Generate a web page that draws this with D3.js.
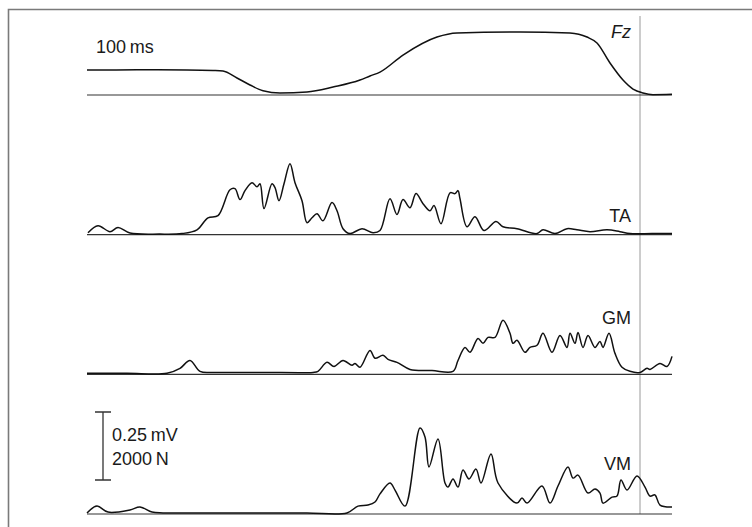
<!DOCTYPE html>
<html>
<head>
<meta charset="utf-8">
<script src="https://cdn.jsdelivr.net/npm/d3@7"></script>
<style>
  body { margin: 0; background: #fff; }
  text { font-family: "Liberation Sans", Arial, sans-serif; font-size: 18px; fill: #1a1a1a; }
</style>
</head>
<body>
<script>
// time in ms, force in N, EMG in microvolts
const fzTime = [0,100,200,252,272,300,326,352,386,440,492,546,566,586,632,700,740,866,966,1000,1020,1046,1072,1092,1112,1132,1170];
const fzVal  = [735,740,735,720,705,500,295,125,60,90,235,440,560,675,1175,1705,1825,1855,1825,1705,1530,940,440,175,60,10,20];

const taTime = [2,22,46,62,86,146,190,220,242,262,286,296,306,316,330,340,346,354,370,376,384,394,406,416,430,440,450,460,472,490,500,512,526,550,572,586,606,620,632,646,658,672,686,694,708,726,736,742,746,760,776,794,818,832,860,900,912,936,960,980,1006,1040,1066,1086,1130,1170];
const taVal  = [7,33,11,26,6,2,4,18,62,70,165,169,129,162,191,176,187,96,187,173,125,187,261,191,125,44,62,77,51,118,88,22,4,22,7,15,132,74,129,99,151,114,88,107,40,154,151,162,132,29,66,15,48,29,22,4,18,4,22,18,11,18,11,4,4,4];

const gmTime = [0,80,160,186,206,226,252,350,452,462,480,494,512,530,536,546,566,576,592,602,620,646,690,732,742,756,766,782,792,802,816,832,846,852,860,876,886,900,912,930,946,960,966,976,982,992,1002,1016,1026,1032,1044,1056,1070,1086,1106,1120,1126,1146,1160,1170];
const gmVal  = [4,4,4,22,51,11,7,7,7,11,44,29,51,33,40,26,88,59,70,55,44,18,14,11,51,99,81,132,114,136,136,199,151,114,125,81,99,107,151,81,143,99,151,114,154,99,143,99,121,99,151,77,26,11,7,22,18,40,29,66];

const vmTime = [0,20,42,86,106,130,152,240,340,440,520,542,562,576,586,606,616,636,666,676,684,702,716,722,732,742,752,764,778,788,808,822,860,870,880,910,926,942,962,972,982,1002,1016,1026,1032,1050,1060,1068,1080,1100,1116,1126,1136,1146,1170];
const vmVal  = [4,29,7,15,26,7,4,4,4,4,4,29,33,44,74,114,88,29,316,283,173,276,114,99,129,99,162,129,165,114,221,114,40,59,40,103,40,103,173,132,143,77,92,77,40,62,66,125,88,140,99,66,70,33,26];

const trackNames = ["Fz", "TA", "GM", "VM"];
const scaleLabels = ["0.25 mV", "2000 N"];
const markerTime = 1106;

const width = 752, height = 527;
const svg = d3.select("body").append("svg").attr("width", width).attr("height", height);

const x = d3.scaleLinear().domain([0, 1170]).range([87, 672]);
const base = d3.scaleLinear().domain([0, 3]).range([95, 514]);
const emgH = d3.scaleLinear().domain([0, 250]).range([0, 68]);
const fzH = d3.scaleLinear().domain([0, 2000]).range([0, 68]);

// frame (cropped on right and bottom)
svg.append("path")
  .attr("d", `M8.5,${height + 2}V9.5H${width + 2}`)
  .attr("fill", "none").attr("stroke", "#7a7a7a").attr("stroke-width", 1.6);

const tracks = [
  { name: trackNames[0], t: fzTime, v: fzVal, h: fzH, curve: d3.curveMonotoneX },
  { name: trackNames[1], t: taTime, v: taVal, h: emgH, curve: d3.curveCatmullRom.alpha(0.5) },
  { name: trackNames[2], t: gmTime, v: gmVal, h: emgH, curve: d3.curveCatmullRom.alpha(0.5) },
  { name: trackNames[3], t: vmTime, v: vmVal, h: emgH, curve: d3.curveCatmullRom.alpha(0.5) }
];

// marker line
svg.append("line")
  .attr("x1", x(markerTime)).attr("x2", x(markerTime))
  .attr("y1", 16).attr("y2", base(3))
  .attr("stroke", "#9a9a9a").attr("stroke-width", 1);

tracks.forEach((tr, i) => {
  const b = base(i);
  svg.append("line")
    .attr("x1", x.range()[0]).attr("x2", x.range()[1])
    .attr("y1", b).attr("y2", b)
    .attr("stroke", "#333").attr("stroke-width", 1.2);

  const line = d3.line()
    .x(d => x(d[0]))
    .y(d => b - tr.h(d[1]))
    .curve(tr.curve);

  svg.append("path")
    .datum(d3.zip(tr.t, tr.v))
    .attr("d", line)
    .attr("fill", "none")
    .attr("stroke", "#111")
    .attr("stroke-width", 1.5)
    .attr("stroke-linejoin", "round");
});

// labels
const labelY = [38, 222, 324, 470];
tracks.forEach((tr, i) => {
  svg.append("text")
    .attr("x", 631).attr("y", labelY[i])
    .attr("text-anchor", "end")
    .style("font-style", i === 0 ? "italic" : "normal")
    .text(tr.name);
});

svg.append("text").attr("x", 96).attr("y", 53).text("100\u2009ms");

// scale bar
const sbX = 103, sbBottom = 480, sbTop = sbBottom - emgH(250);
svg.append("path")
  .attr("d", `M${sbX - 8},${sbTop}H${sbX + 8}M${sbX},${sbTop}V${sbBottom}M${sbX - 8},${sbBottom}H${sbX + 8}`)
  .attr("fill", "none").attr("stroke", "#333").attr("stroke-width", 1.3);

svg.append("text").attr("x", 112).attr("y", 441).text(scaleLabels[0].replace(" ", "\u2009"));
svg.append("text").attr("x", 112).attr("y", 465).text(scaleLabels[1].replace(" ", "\u2009"));
</script>
</body>
</html>
